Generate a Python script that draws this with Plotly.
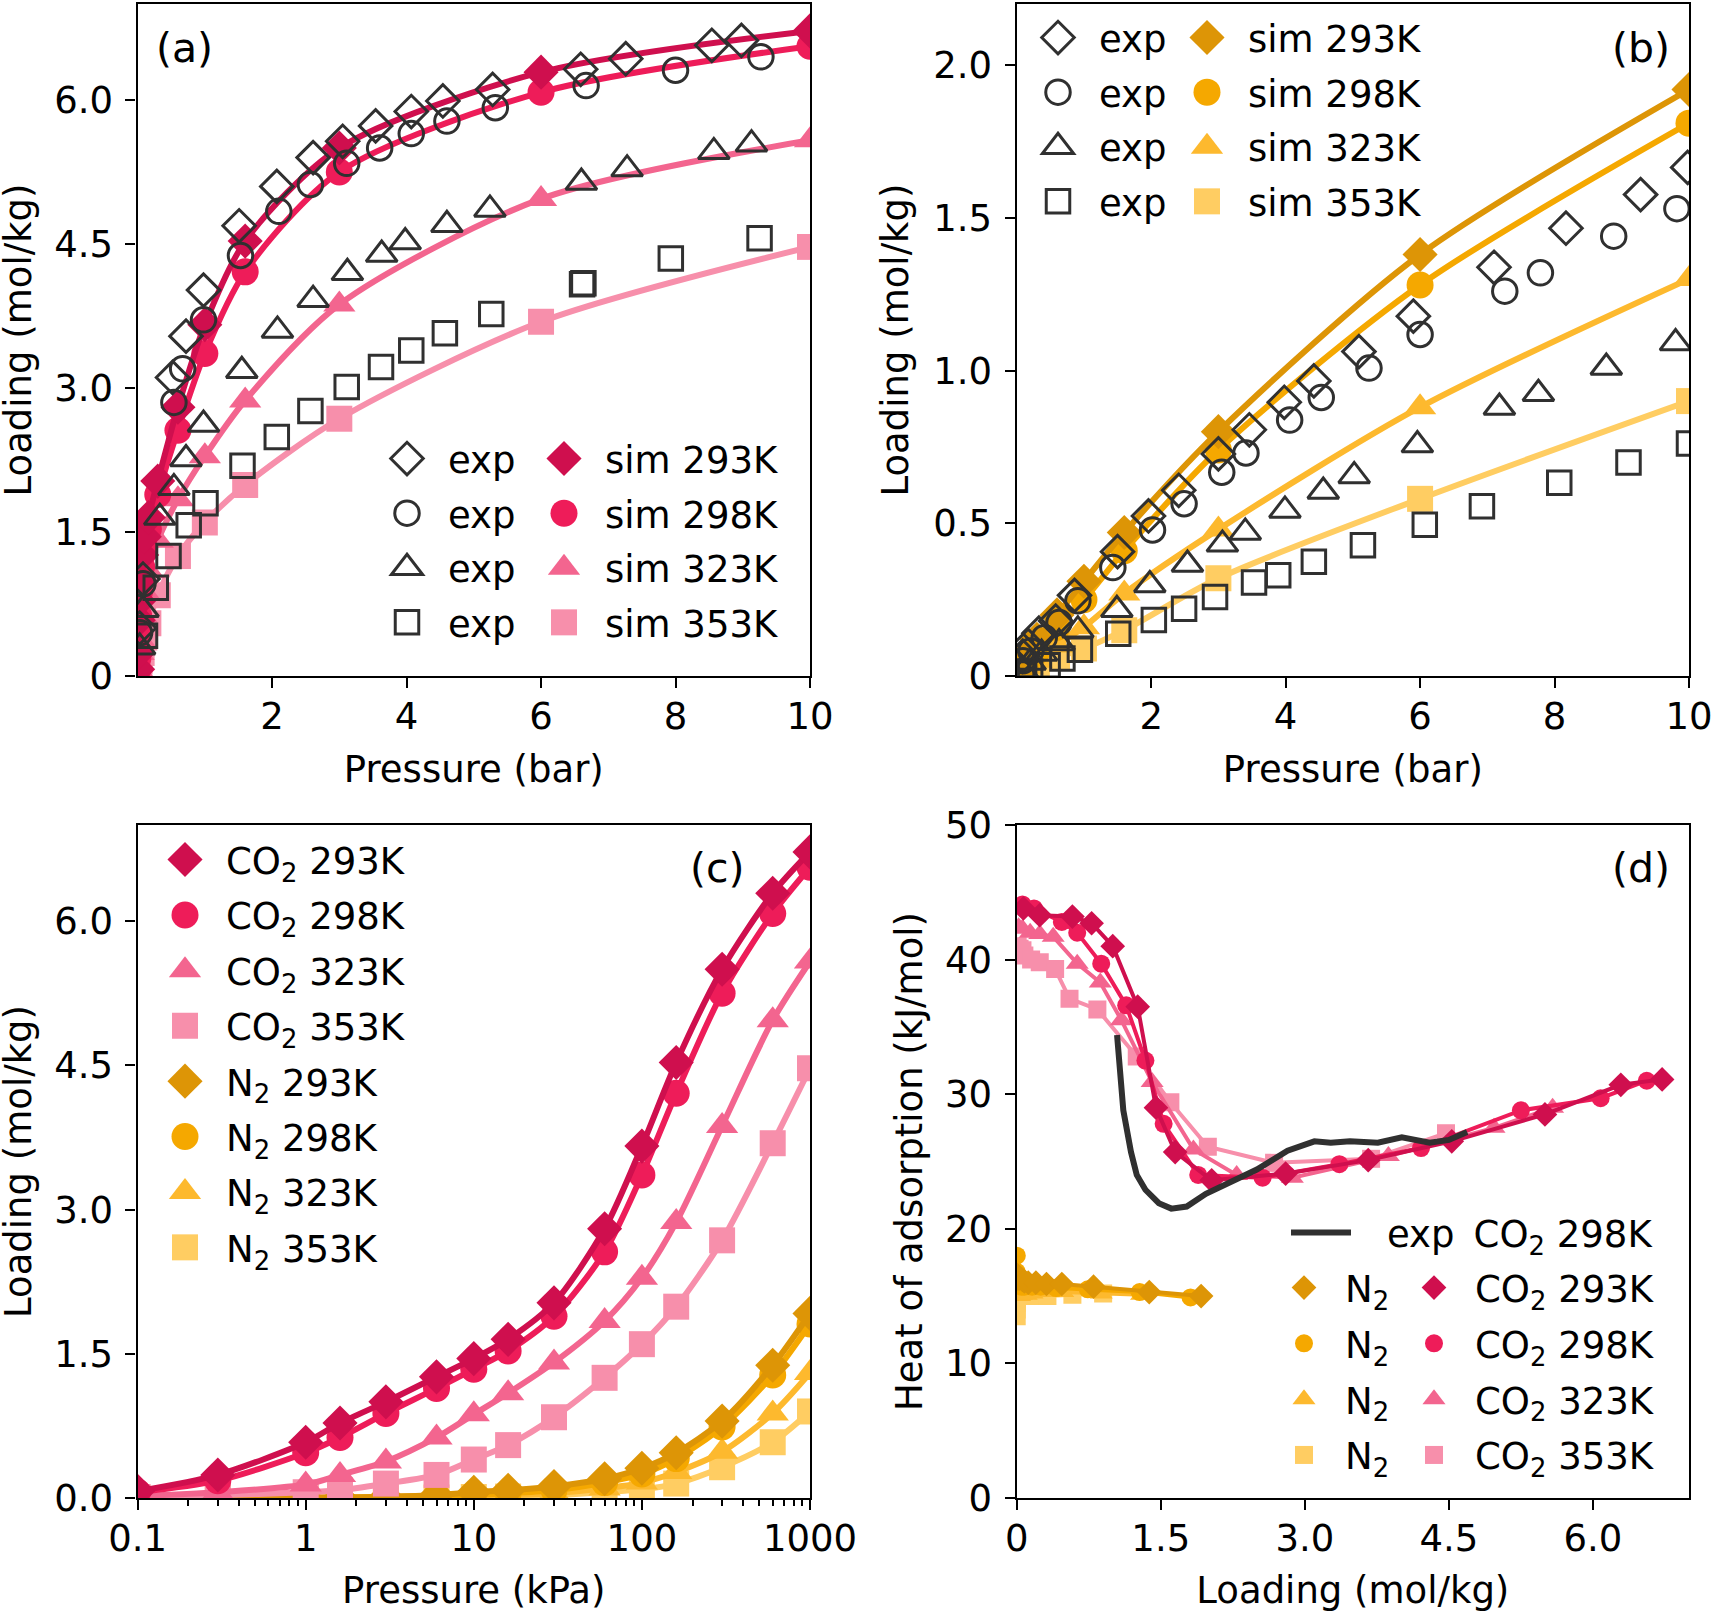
import plotly.graph_objects as go

W, H = 1713, 1612
pressure_kpa = [0.1, 0.3, 1, 1.6, 3, 6, 10, 16, 30, 60, 100, 160, 300, 600, 1000]
pressure_bar = [p / 100 for p in pressure_kpa]
temps = ["293K", "298K", "323K", "353K"]

co2_293 = [0.07, 0.24, 0.58, 0.78, 1.0, 1.26, 1.45, 1.65, 2.03, 2.8, 3.66, 4.53, 5.5, 6.29, 6.72]
co2_298 = [0.06, 0.18, 0.47, 0.63, 0.88, 1.14, 1.34, 1.53, 1.89, 2.56, 3.36, 4.21, 5.25, 6.08, 6.56]
co2_323 = [0.02, 0.06, 0.14, 0.24, 0.38, 0.63, 0.87, 1.09, 1.41, 1.84, 2.29, 2.87, 3.87, 4.97, 5.58]
co2_353 = [0.01, 0.03, 0.06, 0.08, 0.15, 0.24, 0.4, 0.55, 0.84, 1.25, 1.6, 1.99, 2.68, 3.69, 4.47]
n2_293 = [0.001, 0.002, 0.004, 0.006, 0.012, 0.03, 0.06, 0.08, 0.12, 0.2, 0.31, 0.47, 0.8, 1.38, 1.92]
n2_298 = [0.001, 0.001, 0.003, 0.005, 0.01, 0.02, 0.03, 0.05, 0.08, 0.16, 0.25, 0.41, 0.74, 1.28, 1.81]
n2_323 = [0.0005, 0.001, 0.002, 0.003, 0.005, 0.01, 0.02, 0.03, 0.05, 0.1, 0.16, 0.27, 0.48, 0.88, 1.3]
n2_353 = [0.0002, 0.0005, 0.001, 0.002, 0.003, 0.005, 0.01, 0.015, 0.03, 0.06, 0.09, 0.15, 0.32, 0.58, 0.9]

q_co2_293 = [43.8, 43.3, 43.2, 42.7, 41.0, 36.5, 29.0, 25.7, 23.6, 24.1, 25.1, 26.5, 28.5, 30.7, 31.1]
q_co2_298 = [44.1, 43.8, 42.8, 42.0, 39.7, 36.6, 32.5, 27.8, 24.0, 23.8, 24.8, 26.0, 28.8, 29.7, 31.0]
q_co2_323 = [42.4, 42.3, 42.0, 41.9, 41.7, 39.7, 38.3, 35.5, 30.9, 25.9, 24.0, 23.8, 25.4, 27.5, 29.0]
q_co2_353 = [41.0, 40.8, 40.7, 40.3, 40.0, 39.8, 39.3, 37.1, 36.3, 32.8, 29.4, 26.1, 24.9, 25.2, 27.1]
q_n2_293 = [16.6, 16.5, 16.5, 16.4, 16.3, 16.3, 16.2, 16.1, 16.0, 16.0, 15.9, 15.9, 15.7, 15.3, 15.0]
q_n2_298 = [18.0, 16.8, 16.2, 16.0, 15.9, 15.8, 15.8, 15.7, 15.7, 15.7, 15.7, 15.6, 15.5, 15.3, 14.9]
q_n2_323 = [15.5, 15.5, 15.4, 15.3, 15.2, 15.2, 15.1, 15.0, 15.1, 15.1, 15.2, 15.3, 15.3, 15.2, 15.1]
q_n2_353 = [13.5, 14.0, 14.5, 14.8, 15.0, 15.1, 15.0, 15.0, 15.0, 15.0, 15.0, 15.0, 15.0, 15.1, 15.2]

a_exp_293_x = [0.03, 0.08, 0.52, 0.72, 0.98, 1.51, 2.07, 2.61, 3.05, 3.54, 4.07, 4.54, 5.28, 6.59, 7.26, 8.54, 8.98]
a_exp_293_y = [0.5, 1.01, 3.11, 3.54, 4.02, 4.69, 5.1, 5.4, 5.57, 5.73, 5.88, 5.99, 6.11, 6.32, 6.43, 6.57, 6.62]
a_exp_298_x = [0.03, 0.08, 0.54, 0.67, 0.98, 1.53, 2.1, 2.57, 3.11, 3.6, 4.07, 4.6, 5.32, 6.67, 8.0, 9.27]
a_exp_298_y = [0.45, 0.96, 2.85, 3.2, 3.71, 4.38, 4.84, 5.12, 5.34, 5.5, 5.65, 5.78, 5.92, 6.15, 6.31, 6.45]
a_exp_323_x = [0.03, 0.08, 0.33, 0.54, 0.72, 0.98, 1.55, 2.08, 2.61, 3.12, 3.63, 3.98, 4.6, 5.24, 6.6, 7.28, 8.57, 9.13]
a_exp_323_y = [0.3, 0.69, 1.65, 1.96, 2.26, 2.62, 3.18, 3.6, 3.92, 4.2, 4.39, 4.52, 4.7, 4.86, 5.14, 5.28, 5.46, 5.54]
a_exp_353_x = [0.11, 0.27, 0.46, 0.76, 1.01, 1.56, 2.07, 2.57, 3.11, 3.62, 4.07, 4.57, 5.26, 6.61, 6.63, 7.93, 9.25]
a_exp_353_y = [0.42, 0.92, 1.25, 1.57, 1.8, 2.19, 2.49, 2.76, 3.01, 3.22, 3.39, 3.57, 3.77, 4.08, 4.09, 4.35, 4.56]

b_exp_293_x = [0.09, 0.17, 0.33, 0.58, 0.86, 1.5, 1.96, 2.41, 3.0, 3.46, 3.98, 4.42, 5.09, 5.9, 7.1, 8.17, 9.28, 9.98]
b_exp_293_y = [0.065, 0.1, 0.14, 0.18, 0.264, 0.407, 0.524, 0.608, 0.727, 0.806, 0.896, 0.966, 1.062, 1.178, 1.338, 1.466, 1.576, 1.665]
b_exp_298_x = [0.09, 0.21, 0.41, 0.63, 0.91, 1.43, 2.02, 2.49, 3.05, 3.41, 4.06, 4.53, 5.24, 6.0, 7.26, 7.79, 8.88, 9.82]
b_exp_298_y = [0.05, 0.082, 0.125, 0.175, 0.246, 0.355, 0.478, 0.564, 0.667, 0.73, 0.838, 0.912, 1.008, 1.118, 1.26, 1.32, 1.44, 1.53]
b_exp_323_x = [0.08, 0.2, 0.37, 0.63, 0.91, 1.49, 1.98, 2.54, 3.06, 3.4, 3.99, 4.56, 5.02, 5.96, 7.18, 7.76, 8.77, 9.8]
b_exp_323_y = [0.02, 0.044, 0.074, 0.108, 0.15, 0.217, 0.298, 0.365, 0.431, 0.47, 0.542, 0.604, 0.655, 0.756, 0.879, 0.924, 1.01, 1.09]
b_exp_353_x = [0.08, 0.2, 0.46, 0.68, 0.94, 1.51, 2.04, 2.49, 2.95, 3.53, 3.89, 4.42, 5.15, 6.07, 6.92, 8.07, 9.1, 10.0]
b_exp_353_y = [0.008, 0.015, 0.035, 0.057, 0.086, 0.138, 0.183, 0.22, 0.259, 0.306, 0.33, 0.374, 0.428, 0.495, 0.556, 0.633, 0.699, 0.761]

d_exp_x = [1.045, 1.07, 1.11, 1.19, 1.25, 1.34, 1.48, 1.61, 1.77, 1.97, 2.25, 2.5, 2.82, 3.1, 3.27, 3.47, 3.76, 4.01, 4.3, 4.5, 4.69]
d_exp_y = [34.4, 32.2, 28.8, 25.7, 24.0, 22.9, 21.9, 21.5, 21.65, 22.6, 23.6, 24.4, 25.8, 26.5, 26.4, 26.5, 26.4, 26.8, 26.4, 26.6, 27.2]

co2_colors = ["#CF0F4E", "#EE1C59", "#F3658F", "#F78FAB"]
n2_colors = ["#DD9506", "#F5A800", "#FDB92E", "#FFCD62"]
filled = ["diamond", "circle", "triangle-up", "square"]
opened = ["diamond-open", "circle-open", "triangle-up-open", "square-open"]
sim_sizes = [27, 27, 28, 26]
exp_sizes = [25, 24.5, 27, 23.5]
q_sizes = [19, 18, 20, 18]
EDGE = "#303030"
FONT = 37

fig = go.Figure()


def line(xa, ya, x, y, color, width, shape="spline"):
    fig.add_trace(go.Scatter(x=x, y=y, mode="lines", xaxis=xa, yaxis=ya, showlegend=False,
                             line=dict(color=color, width=width, shape=shape, smoothing=0.8), hoverinfo="skip"))


def dots(xa, ya, x, y, color, symbol, size, name, legend, rank, edge=0):
    fig.add_trace(go.Scatter(x=x, y=y, mode="markers", xaxis=xa, yaxis=ya, name=name, legend=legend,
                             legendgroup=f"{legend}-{rank}", legendrank=rank,
                             marker=dict(color=color, symbol=symbol, size=size,
                                         line=dict(color=color, width=edge))))


panels = [("x", "y", [co2_293, co2_298, co2_323, co2_353], co2_colors, "legend", "legend2",
           [(a_exp_293_x, a_exp_293_y), (a_exp_298_x, a_exp_298_y), (a_exp_323_x, a_exp_323_y), (a_exp_353_x, a_exp_353_y)]),
          ("x2", "y2", [n2_293, n2_298, n2_323, n2_353], n2_colors, "legend3", "legend4",
           [(b_exp_293_x, b_exp_293_y), (b_exp_298_x, b_exp_298_y), (b_exp_323_x, b_exp_323_y), (b_exp_353_x, b_exp_353_y)])]
for xa, ya, sims, cols, lg_exp, lg_sim, exps in panels:
    for i in (3, 2, 1, 0):
        line(xa, ya, pressure_bar, sims[i], cols[i], 6)
        dots(xa, ya, pressure_bar, sims[i], cols[i], filled[i], sim_sizes[i], f"sim {temps[i]}", lg_sim, i)
    for i in (3, 2, 1, 0):
        dots(xa, ya, exps[i][0], exps[i][1], EDGE, opened[i], exp_sizes[i], "exp", lg_exp, i, edge=3)

for i in (3, 2, 1, 0):
    ys = [n2_293, n2_298, n2_323, n2_353][i]
    line("x3", "y3", pressure_kpa, ys, n2_colors[i], 6)
    dots("x3", "y3", pressure_kpa, ys, n2_colors[i], filled[i], sim_sizes[i], f"N<sub>2</sub> {temps[i]}", "legend5", 4 + i)
for i in (3, 2, 1, 0):
    ys = [co2_293, co2_298, co2_323, co2_353][i]
    line("x3", "y3", pressure_kpa, ys, co2_colors[i], 6)
    dots("x3", "y3", pressure_kpa, ys, co2_colors[i], filled[i], sim_sizes[i], f"CO<sub>2</sub> {temps[i]}", "legend5", i)

for i in (3, 2, 1, 0):
    xs = [n2_293, n2_298, n2_323, n2_353][i]
    ys = [q_n2_293, q_n2_298, q_n2_323, q_n2_353][i]
    line("x4", "y4", xs, ys, n2_colors[i], 4, "linear")
    dots("x4", "y4", xs, ys, n2_colors[i], filled[i], q_sizes[i], "N<sub>2</sub>", "legend6", i)
for i in (3, 2, 1, 0):
    xs = [co2_293, co2_298, co2_323, co2_353][i]
    ys = [q_co2_293, q_co2_298, q_co2_323, q_co2_353][i]
    line("x4", "y4", xs, ys, co2_colors[i], 4, "linear")
    dots("x4", "y4", xs, ys, co2_colors[i], filled[i], q_sizes[i], f"CO<sub>2</sub> {temps[i]}", "legend7", i)
fig.add_trace(go.Scatter(x=d_exp_x, y=d_exp_y, mode="lines", xaxis="x4", yaxis="y4", legend="legend8",
                         name="\u00a0\u00a0\u2009exp\u00a0\u2009CO<sub>2</sub> 298K", line=dict(color=EDGE, width=6)))


def px_x(a, b):
    return [a / W, b / W]


def px_y(top, bottom):
    return [1 - bottom / H, 1 - top / H]


def axis(title, rng, domain, anchor, vals, text, standoff, lab, **kw):
    return dict(title=dict(text=title, standoff=standoff, font=dict(size=FONT, color="black")),
                range=rng, domain=domain, anchor=anchor, tickmode="array", tickvals=vals, ticktext=text,
                ticks="outside", ticklen=10, tickwidth=2, tickcolor="black", showline=True, linecolor="black",
                linewidth=2.4, mirror=True, showgrid=False, zeroline=False, ticklabelstandoff=lab,
                tickfont=dict(size=FONT, color="black"), **kw)


PRESS_T = [2, 4, 6, 8, 10]
PRESS_L = ["2", "4", "6", "8", "10"]
LOAD_T = [0, 1.5, 3, 4.5, 6]
LOAD_L = ["0", "1.5", "3.0", "4.5", "6.0"]
X_L, X_R = px_x(137.6, 810), px_x(1016.7, 1689)
Y_T, Y_B = px_y(4, 676), px_y(825, 1498)
minor_vals = [m * d for d in (0.1, 1, 10, 100) for m in range(2, 10)]

layout = dict(
    width=W, height=H, margin=dict(l=0, r=0, t=0, b=0, autoexpand=False), paper_bgcolor="white", plot_bgcolor="white",
    font=dict(family="DejaVu Sans", size=FONT, color="black"), hovermode=False,
    xaxis=axis("Pressure (bar)", [0, 10], X_L, "y", PRESS_T, PRESS_L, 20, -4),
    yaxis=axis("Loading (mol/kg)", [0, 7], Y_T, "x", LOAD_T, LOAD_L, 26, 5),
    xaxis2=axis("Pressure (bar)", [0, 10], X_R, "y2", PRESS_T, PRESS_L, 20, -4),
    yaxis2=axis("Loading (mol/kg)", [0, 2.2], Y_T, "x2", [0, 0.5, 1, 1.5, 2], ["0", "0.5", "1.0", "1.5", "2.0"], 13, 5),
    xaxis3=axis("Pressure (kPa)", [-1, 3], X_L, "y3", [0.1, 1, 10, 100, 1000], ["0.1", "1", "10", "100", "1000"], 20, -4,
                type="log", minor=dict(ticks="outside", ticklen=6, tickwidth=1.6, tickcolor="black",
                                       tickmode="array", tickvals=minor_vals)),
    yaxis3=axis("Loading (mol/kg)", [0, 7], Y_B, "x3", LOAD_T, ["0.0", "1.5", "3.0", "4.5", "6.0"], 26, 5),
    xaxis4=axis("Loading (mol/kg)", [0, 7], X_R, "y4", LOAD_T, LOAD_L, 20, -4),
    yaxis4=axis("Heat of adsorption (kJ/mol)", [0, 50], Y_B, "x4", [0, 10, 20, 30, 40, 50],
                ["0", "10", "20", "30", "40", "50"], 11, 5),
    annotations=[dict(text=t, x=x / W, y=1 - y / H, xref="paper", yref="paper", showarrow=False,
                      xanchor="center", yanchor="middle", font=dict(size=41, color="black"))
                 for t, x, y in [("(a)", 184, 48), ("(b)", 1641, 48), ("(c)", 717, 868), ("(d)", 1641, 868)]],
)


def legend(left, top, itemwidth, gap=3.5):
    return dict(x=left / W, y=1 - top / H, xanchor="left", yanchor="top", bgcolor="rgba(0,0,0,0)", borderwidth=0,
                itemwidth=itemwidth, tracegroupgap=gap, font=dict(size=FONT, color="black"),
                itemclick=False, itemdoubleclick=False)


layout.update(
    legend=legend(366, 428, 72), legend2=legend(523, 428, 72),
    legend3=legend(1017, 7, 72), legend4=legend(1166, 7, 72),
    legend5=legend(144, 829, 72, 4.3),
    legend6=legend(1263, 1257, 72, 4.7), legend7=legend(1393, 1257, 72, 4.7),
    legend8=legend(1286, 1202, 60),
)
fig.update_layout(**layout)

POST = """
document.body.style.margin = '0';
document.querySelectorAll('g.traces').forEach(function (g) {
  var d = g.__data__ && g.__data__[0] && g.__data__[0].trace;
  if (!d || !d.marker || !d.marker.size) return;
  var k = d.marker.size / 16;
  g.querySelectorAll('.legendpoints path.scatterpts').forEach(function (p) {
    var t = p.getAttribute('transform') || '';
    p.setAttribute('transform', t + ' scale(' + k + ')');
    p.style.vectorEffect = 'non-scaling-stroke';
  });
});
document.querySelectorAll('text.ytitle, text.y3title').forEach(function (el) {
  el.setAttribute('transform', 'translate(-3.5,0) ' + (el.getAttribute('transform') || ''));
});
"""
fig.write_html("out.html", post_script=POST, config={"responsive": False, "displayModeBar": False})
